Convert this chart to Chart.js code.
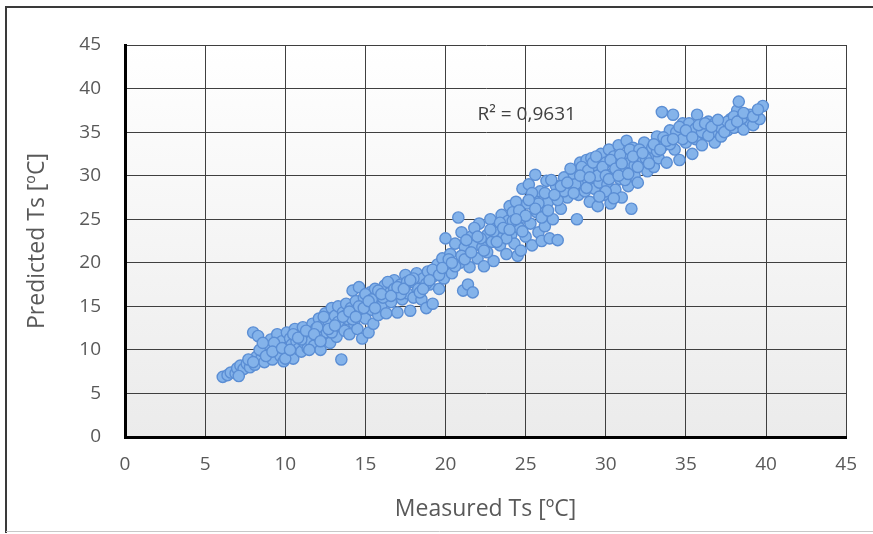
<!DOCTYPE html>
<html>
<head>
<meta charset="utf-8">
<script src="https://cdn.jsdelivr.net/npm/chart.js@4/dist/chart.umd.min.js"></script>
<style>
  html, body { margin: 0; padding: 0; background: #ffffff; }
  #wrap { position: relative; width: 873px; height: 534px; }
</style>
</head>
<body>
<div id="wrap"><canvas id="c" width="873" height="534"></canvas></div>
<script>
// ---- data ----
const measured = [
 6.1,6.4,6.6,6.9,7.0,7.2,7.4,7.6,7.8,7.9,8.1,8.2,8.0,8.3,8.5,8.6,8.7,8.9,9.0,9.1,
 9.2,9.4,9.5,9.6,9.7,9.8,9.9,10.0,10.1,10.2,10.3,10.4,10.5,10.6,10.7,10.8,10.9,11.0,11.1,11.2,
 11.3,11.4,11.5,11.6,11.7,11.8,11.9,12.0,12.1,12.2,12.3,12.4,12.5,12.6,12.7,12.8,12.9,13.0,13.1,13.2,
 13.3,13.4,13.5,13.6,13.7,13.8,13.9,14.0,14.1,14.2,14.3,14.4,14.5,14.6,14.7,14.8,14.9,15.0,15.1,15.2,
 15.3,15.4,15.5,15.6,15.7,15.8,15.9,16.0,16.2,16.3,16.5,16.6,16.8,16.9,17.0,17.2,17.3,17.5,17.6,17.8,
 17.9,18.0,18.2,18.3,18.5,18.6,18.8,18.9,19.0,19.2,19.3,19.5,19.6,19.8,19.9,20.0,20.1,20.3,20.4,20.6,
 20.8,20.9,21.0,21.1,21.2,21.4,21.5,21.6,21.7,21.8,22.0,22.1,22.3,22.4,22.6,22.8,22.9,23.0,23.2,23.4,
 23.5,23.6,23.8,23.9,24.0,24.1,24.2,24.3,24.4,24.5,24.6,24.7,24.8,24.9,25.0,25.1,25.2,25.3,25.4,25.5,
 25.6,25.7,25.8,25.9,26.0,26.1,26.2,26.3,26.4,26.5,26.7,26.9,27.0,27.2,27.4,27.6,27.8,28.0,28.2,28.3,
 28.4,28.5,28.6,28.7,28.8,28.9,29.0,29.1,29.2,29.3,29.4,29.5,29.6,29.7,29.8,29.9,30.0,30.1,30.2,30.3,
 30.4,30.5,30.6,30.7,30.8,30.9,31.0,31.1,31.2,31.3,31.4,31.5,31.6,31.7,31.8,31.9,32.0,32.2,32.4,32.6,
 32.8,33.0,33.2,33.3,33.5,33.6,33.8,34.0,34.2,34.3,34.5,34.6,34.8,35.0,35.2,35.4,35.6,35.7,35.9,36.0,
 36.2,36.4,36.6,36.8,37.0,37.2,37.4,37.6,37.8,38.0,38.2,38.3,38.4,38.6,38.8,39.0,39.2,39.4,39.6,39.8,
 7.1,7.7,8.4,8.8,9.3,10.0,10.5,11.0,11.5,12.0,12.4,12.9,13.3,13.8,14.2,14.6,15.0,15.4,15.8,16.1,
 16.4,16.8,17.2,17.6,18.0,18.4,18.8,19.2,19.6,20.2,20.6,21.0,21.3,21.8,22.2,22.6,23.0,23.4,23.8,24.2,
 24.6,25.0,25.4,25.8,26.2,26.6,27.0,27.4,27.8,28.1,28.5,28.9,29.2,29.5,29.8,30.0,30.3,30.6,30.9,31.2,
 31.5,31.8,32.1,32.5,32.9,33.2,33.6,34.0,34.4,34.8,35.2,35.6,36.0,36.4,36.8,37.2,37.6,38.0,38.5,39.0,
 8.0,8.6,9.2,9.8,10.3,10.8,11.3,11.8,12.2,12.7,13.1,13.6,14.0,14.4,14.9,15.2,15.6,16.0,16.6,17.0,
 17.4,17.8,18.6,19.0,19.8,20.4,21.2,21.6,22.0,22.4,22.8,23.2,23.6,24.0,24.4,24.8,25.2,25.6,26.0,26.4,
 26.8,27.2,27.6,28.0,28.4,28.8,29.0,29.4,29.6,30.0,30.2,30.5,30.8,31.0,31.4,31.7,32.0,32.3,32.7,33.0,
 33.4,33.8,34.2,34.6,35.0,35.4,35.8,36.2,36.6,37.0,37.4,37.8,38.2,38.6,39.2,39.5
];
const predicted = [
 6.9,7.1,7.4,7.3,7.9,8.2,7.8,8.4,8.0,8.8,8.3,9.2,12.0,11.6,9.0,9.8,8.6,10.4,9.5,11.2,
 8.9,10.0,11.8,10.6,9.3,11.0,8.7,10.2,12.0,9.6,11.3,10.6,9.0,12.4,11.0,10.1,11.7,9.8,12.6,10.8,
 11.4,10.2,12.1,11.0,13.0,10.5,12.4,11.6,13.6,10.0,12.8,11.2,14.2,12.0,13.3,10.8,14.8,12.5,13.9,11.5,
 15.0,12.9,8.9,14.3,12.2,15.3,13.5,11.8,14.8,16.8,13.0,15.6,12.4,17.2,14.2,11.3,16.0,13.6,15.0,12.0,
 16.6,14.6,13.0,17.0,15.5,14.0,16.2,15.0,17.4,14.2,16.5,15.5,18.0,16.8,14.3,17.5,15.8,18.6,16.5,14.5,
 17.8,16.0,18.8,17.0,15.8,18.2,14.8,19.0,17.5,15.3,18.5,19.8,17.0,20.5,18.2,22.8,19.5,21.0,18.8,22.2,
 25.2,20.0,23.5,16.8,21.8,17.5,19.5,23.0,16.6,22.0,20.5,24.5,21.8,19.6,23.2,25.0,22.4,20.2,24.0,22.0,
 25.5,23.0,21.0,24.8,26.5,23.2,25.8,22.2,27.0,20.8,24.0,21.4,28.5,25.2,23.0,26.8,29.0,24.5,22.0,27.5,
 30.1,25.8,23.5,28.2,22.5,26.5,24.2,29.4,27.0,22.8,25.0,28.8,22.6,26.2,29.8,27.5,28.5,30.2,25.0,27.8,
 31.5,29.0,30.8,28.2,31.8,29.5,27.0,32.0,30.0,28.5,31.2,26.5,29.2,32.5,30.5,27.8,31.5,29.0,33.0,26.8,
 30.2,32.2,28.4,31.0,33.5,29.6,27.5,32.0,30.6,34.0,28.8,31.5,26.2,33.2,30.0,32.6,29.2,31.8,33.8,30.5,
 32.5,31.0,34.5,32.0,37.3,33.5,31.5,35.2,37.0,33.0,34.5,31.8,36.0,33.8,35.0,32.5,34.2,37.0,35.5,33.5,
 34.8,36.2,35.0,33.8,35.8,34.5,36.0,35.2,36.5,35.5,37.5,38.5,36.0,35.3,37.0,36.2,35.8,37.2,36.5,38.0,
 7.0,8.9,10.0,9.3,10.8,9.0,11.8,11.2,10.0,12.6,13.8,12.0,13.2,14.0,13.5,15.0,16.4,15.8,16.8,16.0,
 17.8,17.0,16.4,17.8,18.2,16.6,17.6,19.2,18.6,20.4,19.6,20.8,22.6,24.0,22.8,21.2,23.6,24.6,22.8,24.8,
 26.0,25.4,28.0,26.8,28.0,29.5,27.2,28.2,30.8,29.0,31.0,30.6,31.5,30.0,31.0,28.2,31.8,30.8,32.4,29.5,
 33.0,31.2,33.0,32.0,33.2,32.8,34.4,33.6,35.0,34.2,36.0,35.4,35.0,34.6,36.0,35.5,36.2,36.8,36.6,37.0,
 8.6,10.8,9.8,10.2,10.0,11.4,12.2,11.8,11.0,12.4,12.8,13.8,14.4,13.8,14.8,15.6,14.8,16.4,16.2,17.2,
 17.0,18.0,17.0,18.0,19.4,20.0,20.4,21.2,23.0,21.4,23.8,22.4,24.0,23.8,25.0,23.6,27.2,26.2,25.2,26.0,
 27.8,28.8,29.2,28.0,30.0,28.6,29.8,32.2,27.6,30.0,29.6,27.4,30.0,31.4,30.2,32.2,31.0,32.6,31.4,33.6,
 33.0,34.0,34.2,35.6,35.2,34.4,35.8,36.0,35.6,36.4,35.0,35.8,36.2,37.2,36.8,37.6
];
const tickValues = [0,5,10,15,20,25,30,35,40,45];
const xTitle = 'Measured Ts [ºC]';
const yTitle = 'Predicted Ts [ºC]';
const r2Label = 'R² = 0,9631';

const points = measured.map((m, i) => ({ x: m, y: predicted[i] }));

const FONT = '"Open Sans", "Noto Sans", sans-serif';

const decor = {
  id: 'decor',
  beforeDraw(chart) {
    const { ctx, chartArea: a } = chart;
    ctx.save();
    const g = ctx.createLinearGradient(0, a.top, 0, a.bottom);
    g.addColorStop(0, '#ffffff');
    g.addColorStop(1, '#ebebeb');
    ctx.fillStyle = g;
    ctx.fillRect(a.left, a.top, a.right - a.left, a.bottom - a.top);
    ctx.restore();
  },
  afterDraw(chart) {
    const { ctx } = chart;
    const xs = chart.scales.x, ys = chart.scales.y;
    ctx.save();
    ctx.font = '19px ' + FONT;
    ctx.fillStyle = '#404040';
    ctx.textAlign = 'left';
    ctx.textBaseline = 'middle';
    ctx.fillText(r2Label, xs.getPixelForValue(22.0), ys.getPixelForValue(37.0));
    // outer frame
    ctx.strokeStyle = '#3a3a3a';
    ctx.lineWidth = 2;
    ctx.beginPath();
    ctx.moveTo(6, 533); ctx.lineTo(6, 7); ctx.lineTo(873, 7);
    ctx.stroke();
    ctx.strokeStyle = '#c8c8c8';
    ctx.lineWidth = 1;
    ctx.beginPath();
    ctx.moveTo(6, 531.5); ctx.lineTo(873, 531.5);
    ctx.stroke();
    ctx.restore();
  }
};

new Chart(document.getElementById('c'), {
  type: 'scatter',
  data: {
    datasets: [{
      data: points,
      backgroundColor: '#84b3ea',
      borderColor: '#5b8ed4',
      borderWidth: 1.4,
      pointRadius: 5.6,
      pointHoverRadius: 5.6
    }]
  },
  options: {
    responsive: false,
    animation: false,
    devicePixelRatio: 1,
    layout: { padding: { left: 0, top: 45, right: 26, bottom: 0 } },
    plugins: { legend: { display: false }, tooltip: { enabled: false } },
    scales: {
      x: {
        type: 'linear', min: 0, max: 45,
        afterBuildTicks(s) { s.ticks = tickValues.map(v => ({ value: v })); },
        afterFit(s) { s.height = 97; },
        grid: { color: '#3f3f3f', lineWidth: 1, drawTicks: false },
        border: { color: '#000000', width: 3 },
        ticks: { padding: 16, color: '#595959', font: { family: FONT, size: 19 } },
        title: { display: true, text: xTitle, color: '#595959', font: { family: FONT, size: 23 }, padding: { top: 0, bottom: 11 } }
      },
      y: {
        type: 'linear', min: 0, max: 45,
        afterBuildTicks(s) { s.ticks = tickValues.map(v => ({ value: v })); },
        afterFit(s) { s.width = 125; },
        grid: { color: '#3f3f3f', lineWidth: 1, drawTicks: false },
        border: { color: '#000000', width: 3 },
        ticks: { padding: 24, color: '#595959', font: { family: FONT, size: 19 } },
        title: { display: true, text: yTitle, color: '#595959', font: { family: FONT, size: 23 }, padding: { top: 24, bottom: 0 } }
      }
    }
  },
  plugins: [decor]
});
</script>
</body>
</html>
